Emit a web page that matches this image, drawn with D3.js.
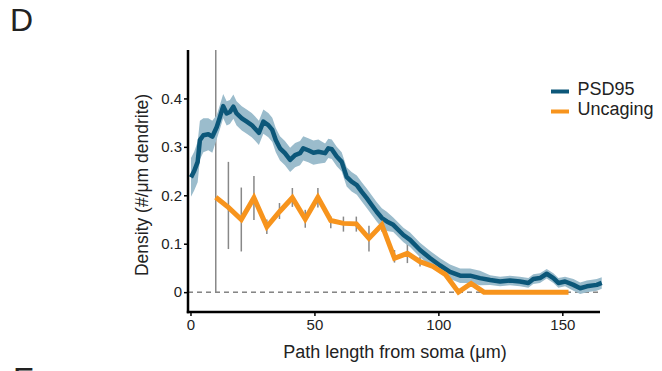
<!DOCTYPE html>
<html>
<head>
<meta charset="utf-8">
<script src="https://cdn.jsdelivr.net/npm/d3@7"></script>
<style>
  body { margin: 0; background: #fff; }
  text { font-family: "Liberation Sans", Arial, sans-serif; fill: #222; }
</style>
</head>
<body>
<svg width="662" height="371"></svg>
<script>
// PSD95 mean density and its SEM band
const psdX = [0.2, 1.5, 2.9, 3.8, 5.2, 7.2, 8.8, 10.6, 11.9, 13.2,
    14.6, 15.9, 17.3, 18.6, 20.7, 22.7, 24.7, 26.0, 27.6, 29.4,
    31.4, 33.0, 34.4, 36.1, 38.1, 40.2, 42.2, 44.2, 45.5, 47.5,
    49.6, 51.6, 54.3, 55.6, 57.0, 59.0, 61.0, 63.0, 65.0, 67.1,
    69.1, 71.1, 73.1, 75.1, 77.2, 79.2, 81.8, 85.9, 88.6, 92.6,
    96.7, 100.7, 104.7, 108.8, 112.8, 116.8, 120.9, 124.9, 128.9, 132.9,
    136.3, 138.3, 141.0, 143.7, 146.4, 148.4, 151.1, 154.5, 157.2, 159.9,
    163.9, 165.9];
const psdY = [0.237, 0.250, 0.269, 0.314, 0.324, 0.326, 0.321, 0.341, 0.362, 0.384,
    0.369, 0.372, 0.383, 0.369, 0.359, 0.352, 0.345, 0.338, 0.329, 0.352,
    0.345, 0.335, 0.314, 0.297, 0.287, 0.273, 0.283, 0.287, 0.297, 0.293,
    0.288, 0.290, 0.287, 0.297, 0.295, 0.280, 0.269, 0.238, 0.228, 0.221,
    0.207, 0.194, 0.180, 0.166, 0.153, 0.146, 0.139, 0.118, 0.108, 0.087,
    0.070, 0.055, 0.042, 0.034, 0.034, 0.029, 0.025, 0.022, 0.024, 0.022,
    0.019, 0.027, 0.029, 0.038, 0.029, 0.019, 0.022, 0.015, 0.008, 0.012,
    0.015, 0.019];
const psdSE = [0.040, 0.040, 0.042, 0.040, 0.035, 0.033, 0.033, 0.025, 0.025, 0.025,
    0.025, 0.025, 0.025, 0.025, 0.025, 0.025, 0.025, 0.025, 0.025, 0.025,
    0.025, 0.025, 0.025, 0.025, 0.025, 0.025, 0.025, 0.025, 0.025, 0.025,
    0.025, 0.025, 0.020, 0.020, 0.020, 0.020, 0.020, 0.020, 0.020, 0.020,
    0.020, 0.020, 0.020, 0.020, 0.020, 0.020, 0.015, 0.015, 0.015, 0.015,
    0.015, 0.015, 0.015, 0.015, 0.015, 0.015, 0.010, 0.010, 0.010, 0.010,
    0.010, 0.010, 0.010, 0.010, 0.010, 0.010, 0.010, 0.012, 0.012, 0.012,
    0.012, 0.012];

// Uncaging density with error bars (only the first 17 points show a bar)
const unX = [10.2, 15.3, 20.5, 25.6, 30.8, 35.9, 41.1, 46.3, 51.4, 56.6,
    61.7, 66.9, 72.0, 77.2, 82.3, 87.5, 92.6, 97.8, 102.9, 108.1,
    113.2, 118.4, 123.5, 128.7, 133.8, 139.0, 144.1, 149.3, 152.5];
const unY = [0.196, 0.175, 0.150, 0.195, 0.135, 0.166, 0.195, 0.151, 0.196, 0.148,
    0.142, 0.141, 0.111, 0.139, 0.070, 0.080, 0.063, 0.053, 0.036, 0.000,
    0.018, 0, 0, 0, 0, 0, 0, 0, 0];
const unLo = [0.000, 0.089, 0.084, 0.149, 0.120, 0.151, 0.176, 0.133, 0.175, 0.132,
    0.125, 0.125, 0.084, 0.125, 0.061, 0.060, 0.053];
const unHi = [0.600, 0.269, 0.216, 0.240, 0.150, 0.184, 0.215, 0.170, 0.215, 0.156,
    0.156, 0.156, 0.137, 0.150, 0.087, 0.100, 0.073];

const xTicks = [0, 50, 100, 150];
const yTicks = [0, 0.1, 0.2, 0.3, 0.4];
const seriesNames = ["PSD95", "Uncaging"];
const seriesColors = ["#0c5779", "#f7941d"];

var svg = d3.select("svg");

var x = d3.scaleLinear().domain([-1, 165.2]).range([188, 600]);
var y = d3.scaleLinear().domain([-0.041, 0.5]).range([312, 50]);

svg.append("defs").append("clipPath").attr("id", "clip")
    .append("rect").attr("x", 188).attr("y", 50).attr("width", 420).attr("height", 262);

var plot = svg.append("g").attr("clip-path", "url(#clip)");

// zero reference line
plot.append("line")
    .attr("x1", 188).attr("x2", 600)
    .attr("y1", y(0)).attr("y2", y(0))
    .attr("stroke", "#444").attr("stroke-width", 1)
    .attr("stroke-dasharray", "5,4");

// error bars of the uncaging series
plot.selectAll(".err")
    .data(unLo.map((lo, i) => ({ x: unX[i], lo: lo, hi: unHi[i] })))
    .enter()
    .append("line")
    .attr("class", "err")
    .attr("x1", d => x(d.x)).attr("x2", d => x(d.x))
    .attr("y1", d => y(d.lo)).attr("y2", d => y(d.hi))
    .attr("stroke", "#888").attr("stroke-width", 1.5);

var psd = psdX.map((v, i) => ({ x: v, y: psdY[i], se: psdSE[i] }));

// SEM band
plot.append("path")
    .datum(psd)
    .attr("fill", "#9bbccc")
    .attr("d", d3.area()
        .x(d => x(d.x))
        .y0(d => y(d.y - d.se))
        .y1(d => y(d.y + d.se)));

plot.append("path")
    .datum(psd)
    .attr("fill", "none")
    .attr("stroke", seriesColors[0])
    .attr("stroke-width", 4.5)
    .attr("stroke-linejoin", "round")
    .attr("d", d3.line().x(d => x(d.x)).y(d => y(d.y)));

plot.append("path")
    .datum(unX.map((v, i) => ({ x: v, y: unY[i] })))
    .attr("fill", "none")
    .attr("stroke", seriesColors[1])
    .attr("stroke-width", 5)
    .attr("stroke-linejoin", "miter")
    .attr("d", d3.line().x(d => x(d.x)).y(d => y(d.y)));

// axes
var xAxis = svg.append("g")
    .attr("transform", "translate(0,312)")
    .call(d3.axisBottom(x).tickValues(xTicks).tickSize(4).tickPadding(3));
var yAxis = svg.append("g")
    .attr("transform", "translate(188,0)")
    .call(d3.axisLeft(y).tickValues(yTicks).tickSize(4).tickPadding(2)
        .tickFormat(d => d === 0 ? "0" : d3.format(".1f")(d)));

[xAxis, yAxis].forEach(g => {
    g.select(".domain").remove();
    g.selectAll(".tick line").attr("stroke", "#000").attr("stroke-width", 1.5);
    g.selectAll(".tick text")
        .style("font-family", "'Liberation Sans', Arial, sans-serif")
        .style("font-size", "15px").attr("fill", "#222");
});

svg.append("line").attr("x1", 186.8).attr("x2", 600).attr("y1", 312).attr("y2", 312)
    .attr("stroke", "#000").attr("stroke-width", 2.5);
svg.append("line").attr("x1", 188).attr("x2", 188).attr("y1", 50).attr("y2", 313.2)
    .attr("stroke", "#000").attr("stroke-width", 2.5);

// axis titles
svg.append("text")
    .attr("x", 395).attr("y", 358)
    .attr("text-anchor", "middle")
    .style("font-size", "18px")
    .text("Path length from soma (μm)");

svg.append("text")
    .attr("transform", "translate(148,185) rotate(-90)")
    .attr("text-anchor", "middle")
    .style("font-size", "17.5px")
    .text("Density (#/μm dendrite)");

// legend
var legend = svg.append("g").attr("transform", "translate(551,91.5)");
seriesNames.forEach((name, i) => {
    legend.append("line")
        .attr("x1", 0).attr("x2", 18)
        .attr("y1", i * 20).attr("y2", i * 20)
        .attr("stroke", seriesColors[i]).attr("stroke-width", 4);
    legend.append("text")
        .attr("x", 26.5).attr("y", i * 20 + 3.5)
        .style("font-size", "18px")
        .text(name);
});

// panel letters
svg.append("text").attr("x", 10).attr("y", 31)
    .style("font-size", "32px").text("D");
svg.append("text").attr("x", 13).attr("y", 390)
    .style("font-size", "32px").text("E");
</script>
</body>
</html>
